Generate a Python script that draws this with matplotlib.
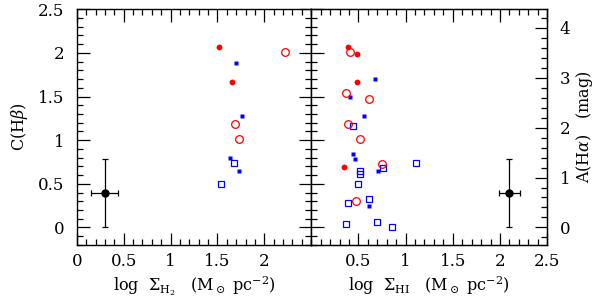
import numpy as np
import matplotlib
matplotlib.use('Agg')
import matplotlib.pyplot as plt
from matplotlib.ticker import MultipleLocator

plt.rcParams['font.family'] = 'serif'
plt.rcParams['font.serif'] = ['DejaVu Serif']
plt.rcParams['mathtext.fontset'] = 'dejavuserif'

# left panel: log Sigma_H2 vs C(Hbeta)
h2_red_fill_x = [1.518, 1.654]
h2_red_fill_y = [2.063, 1.67]
h2_red_open_x = [2.222, 1.686, 1.725]
h2_red_open_y = [2.009, 1.185, 1.018]
h2_blue_fill_x = [1.693, 1.764, 1.636, 1.732]
h2_blue_fill_y = [1.883, 1.277, 0.793, 0.652]
h2_blue_open_x = [1.678, 1.536]
h2_blue_open_y = [0.739, 0.499]

# right panel: log Sigma_HI vs C(Hbeta)
hi_red_fill_x = [0.389, 0.49, 0.49, 0.35]
hi_red_fill_y = [2.063, 1.986, 1.67, 0.69]
hi_red_open_x = [0.406, 0.37, 0.611, 0.389, 0.516, 0.745, 0.47]
hi_red_open_y = [2.006, 1.537, 1.476, 1.185, 1.018, 0.721, 0.304]
hi_blue_fill_x = [0.671, 0.406, 0.561, 0.441, 0.459, 0.703, 0.611]
hi_blue_fill_y = [1.697, 1.494, 1.277, 0.839, 0.789, 0.652, 0.24]
hi_blue_open_x = [0.438, 0.763, 1.112, 0.516, 0.519, 0.498, 0.389, 0.611, 0.367, 0.70, 0.861]
hi_blue_open_y = [1.159, 0.678, 0.739, 0.644, 0.613, 0.503, 0.275, 0.327, 0.034, 0.061, 0.0]

# typical error bars
err_left = (0.296, 0.396, 0.14, 0.39)
err_right = (2.10, 0.396, 0.11, 0.39)

ahalpha = 1.75  # A(Halpha) / C(Hbeta)

fig = plt.figure(figsize=(6, 3.08), dpi=100)
ax1 = fig.add_axes([0.128, 0.205, 0.3907, 0.765])
ax2 = fig.add_axes([0.5187, 0.205, 0.3933, 0.765])


def draw(ax, rfx, rfy, rox, roy, bfx, bfy, box, boy, err):
    ax.plot(box, boy, 's', ms=4.3, mfc='none', mec='blue', mew=0.9)
    ax.plot(bfx, bfy, 's', ms=3.0, color='blue', mec='none')
    ax.plot(rox, roy, 'o', ms=5.5, mfc='none', mec='red', mew=0.9)
    ax.plot(rfx, rfy, 'o', ms=4.2, color='red', mec='none')
    ax.errorbar(err[0], err[1], xerr=err[2], yerr=err[3], fmt='o', ms=5,
                color='black', elinewidth=0.9, capsize=2.5, capthick=0.9)
    ax.set_xlim(0, 2.5)
    ax.set_ylim(-0.2, 2.5)
    ax.xaxis.set_major_locator(MultipleLocator(0.5))
    ax.xaxis.set_minor_locator(MultipleLocator(0.1))
    ax.yaxis.set_major_locator(MultipleLocator(0.5))
    ax.yaxis.set_minor_locator(MultipleLocator(0.1))
    ax.tick_params(which='both', direction='in', top=True, right=True,
                   labelsize=12, width=0.9)
    ax.tick_params(which='major', length=9)
    ax.tick_params(which='minor', length=4.5)
    ax.tick_params(axis='x', pad=6)
    ax.tick_params(axis='y', pad=9)
    for s in ax.spines.values():
        s.set_linewidth(1.0)


draw(ax1, h2_red_fill_x, h2_red_fill_y, h2_red_open_x, h2_red_open_y,
     h2_blue_fill_x, h2_blue_fill_y, h2_blue_open_x, h2_blue_open_y, err_left)
draw(ax2, hi_red_fill_x, hi_red_fill_y, hi_red_open_x, hi_red_open_y,
     hi_blue_fill_x, hi_blue_fill_y, hi_blue_open_x, hi_blue_open_y, err_right)

ax1.set_xticks([0, 0.5, 1, 1.5, 2])
ax1.set_xticklabels(['0', '0.5', '1', '1.5', '2'])
ax1.set_yticks([0, 0.5, 1, 1.5, 2, 2.5])
ax1.set_yticklabels(['0', '0.5', '1', '1.5', '2', '2.5'])
ax1.set_ylabel(r'C(H$\beta$)', fontsize=11.5, labelpad=6)
ax1.set_xlabel(r'log  $\Sigma_{\rm H_2}$   (M$_\odot$ pc$^{-2}$)', fontsize=11.5, labelpad=3)

ax2.set_xticks([0.5, 1, 1.5, 2, 2.5])
ax2.set_xticklabels(['0.5', '1', '1.5', '2', '2.5'])
ax2.tick_params(axis='y', labelleft=False, right=False)
ax2.set_xlabel(r'log  $\Sigma_{\rm HI}$   (M$_\odot$ pc$^{-2}$)', fontsize=11.5, labelpad=3)

ax3 = ax2.twinx()
ax3.set_ylim(-0.2 * ahalpha, 2.5 * ahalpha)
ax3.yaxis.set_major_locator(MultipleLocator(1))
ax3.yaxis.set_minor_locator(MultipleLocator(0.2))
ax3.tick_params(which='both', direction='in', labelsize=12, width=0.9, pad=9)
ax3.tick_params(which='major', length=9)
ax3.tick_params(which='minor', length=4.5)
ax3.set_ylabel(r'A(H$\alpha$)   (mag)', fontsize=11.5, labelpad=3)

fig.savefig('out.png', dpi=100)
